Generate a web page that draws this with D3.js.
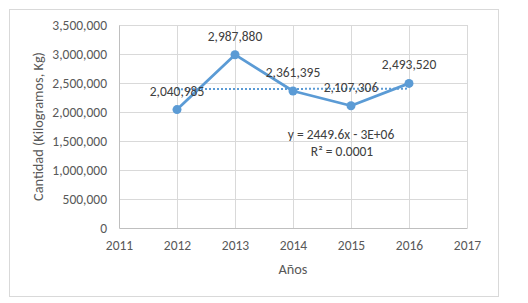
<!DOCTYPE html>
<html>
  <head>
    <meta charset="utf-8" />
    <title>Cantidad por año</title>
    <style>
      body { margin: 0; background: #fff; }
      text { font-family: Calibri, Carlito, "Open Sans", sans-serif; fill: #595959; }
      .tick text { font-size: 13.5px; }
      .label { font-size: 14.3px; }
      .value { font-size: 13.5px; fill: #404040; }
      .trend { font-size: 13.5px; fill: #404040; }
    </style>
  </head>
  <body>
    <div id="chart"></div>
    <script src="https://d3js.org/d3.v7.min.js"></script>
    <script>
      // data
      const years = [2012, 2013, 2014, 2015, 2016];
      const cantidad = [2040985, 2987880, 2361395, 2107306, 2493520];
      const yTicks = [0, 500000, 1000000, 1500000, 2000000, 2500000, 3000000, 3500000];
      const xTicks = [2011, 2012, 2013, 2014, 2015, 2016, 2017];
      const trendText = ["y = 2449.6x - 3E+06", "R² = 0.0001"];

      const W = 528, H = 303;
      const plot = { left: 119, top: 25, right: 467, bottom: 228 };
      const blue = "#5B9BD5";

      const svg = d3.select("#chart").append("svg")
        .attr("width", W)
        .attr("height", H);

      // chart frame
      svg.append("rect")
        .attr("x", 9.5).attr("y", 9.5)
        .attr("width", 489).attr("height", 287)
        .attr("fill", "#fff")
        .attr("stroke", "#d9d9d9");

      const x = d3.scaleLinear().domain([2011, 2017]).range([plot.left, plot.right]);
      const y = d3.scaleLinear().domain([0, 3500000]).range([plot.bottom, plot.top]);

      // gridlines
      svg.append("g")
        .attr("transform", `translate(0,${plot.bottom})`)
        .call(d3.axisBottom(x).tickValues(xTicks.slice(1)).tickSize(-(plot.bottom - plot.top)).tickFormat(""))
        .call(g => g.select(".domain").remove())
        .call(g => g.selectAll("line").attr("stroke", "#d9d9d9"));

      svg.append("g")
        .attr("transform", `translate(${plot.left},0)`)
        .call(d3.axisLeft(y).tickValues(yTicks.slice(1)).tickSize(-(plot.right - plot.left)).tickFormat(""))
        .call(g => g.select(".domain").remove())
        .call(g => g.selectAll("line").attr("stroke", "#d9d9d9"));

      // axes
      svg.append("g")
        .attr("transform", `translate(0,${plot.bottom})`)
        .call(d3.axisBottom(x).tickValues(xTicks).tickSize(0).tickPadding(12).tickFormat(d3.format("d")))
        .call(g => g.select(".domain").attr("stroke", "#bfbfbf"));

      svg.append("g")
        .attr("transform", `translate(${plot.left},0)`)
        .call(d3.axisLeft(y).tickValues(yTicks).tickSize(0).tickPadding(12).tickFormat(d3.format(",")))
        .call(g => g.select(".domain").attr("stroke", "#bfbfbf"));

      // linear trend line
      const n = years.length;
      const mx = d3.mean(years), my = d3.mean(cantidad);
      const slope = d3.sum(years, (v, i) => (v - mx) * (cantidad[i] - my)) / d3.sum(years, v => (v - mx) ** 2);
      const trend = v => my + slope * (v - mx);

      svg.append("line")
        .attr("x1", x(years[0])).attr("y1", y(trend(years[0])))
        .attr("x2", x(years[n - 1])).attr("y2", y(trend(years[n - 1])))
        .attr("stroke", blue)
        .attr("stroke-width", 2)
        .attr("stroke-dasharray", "2,2");

      const pts = years.map((v, i) => [v, cantidad[i]]);

      svg.append("path")
        .datum(pts)
        .attr("fill", "none")
        .attr("stroke", blue)
        .attr("stroke-width", 2.75)
        .attr("stroke-linejoin", "round")
        .attr("d", d3.line().x(d => x(d[0])).y(d => y(d[1])));

      svg.selectAll(".dot")
        .data(pts)
        .enter()
        .append("circle")
        .attr("cx", d => x(d[0]))
        .attr("cy", d => y(d[1]))
        .attr("r", 4.5)
        .attr("fill", blue);

      svg.selectAll(".value")
        .data(pts)
        .enter()
        .append("text")
        .attr("class", "value")
        .attr("x", d => x(d[0]))
        .attr("y", d => y(d[1]) - 14)
        .attr("text-anchor", "middle")
        .text(d => d3.format(",")(d[1]));

      svg.append("text")
        .attr("class", "trend")
        .attr("x", 341).attr("y", 139)
        .attr("text-anchor", "middle")
        .text(trendText[0]);

      svg.append("text")
        .attr("class", "trend")
        .attr("x", 342).attr("y", 156)
        .attr("text-anchor", "middle")
        .text(trendText[1]);

      // axis titles
      svg.append("text")
        .attr("class", "label")
        .attr("x", (plot.left + plot.right) / 2)
        .attr("y", 274)
        .attr("text-anchor", "middle")
        .text("Años");

      svg.append("text")
        .attr("class", "label")
        .attr("transform", `translate(43,${(plot.top + plot.bottom) / 2}) rotate(-90)`)
        .attr("text-anchor", "middle")
        .text("Cantidad (Kilogramos, Kg)");
    </script>
  </body>
</html>
